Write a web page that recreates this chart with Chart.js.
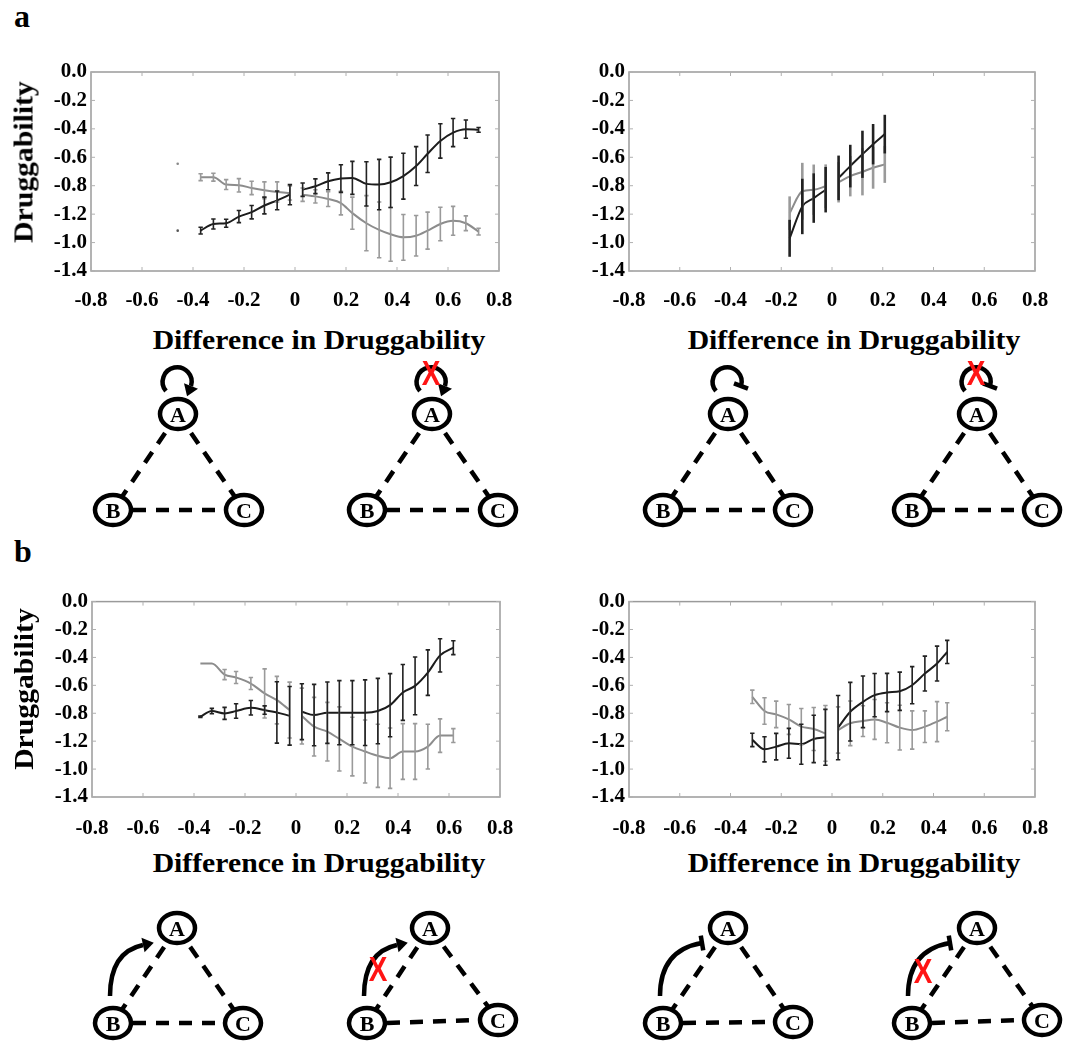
<!DOCTYPE html>
<html>
<head>
<meta charset="utf-8">
<script src="https://cdn.jsdelivr.net/npm/chart.js@4.4.1/dist/chart.umd.min.js"></script>
<style>
  body { margin: 0; background: #fff; }
  #page { position: relative; width: 1084px; height: 1042px; overflow: hidden; background: #fff; }
  canvas { position: absolute; }
  .lbl { position: absolute; font-family: "Liberation Serif", serif; font-weight: bold; color: #000; white-space: nowrap; }
  .xt { font-size: 27px; transform: translate(-50%, -50%) scaleX(1.1); }
  .yt { font-size: 27px; transform: translate(-50%, -50%) rotate(-90deg) scaleX(1.1); }
  .pl { font-size: 32px; }
  svg { position: absolute; left: 0; top: 0; }
</style>
</head>
<body>
<div id="page">
  <canvas id="aLeft" width="540" height="265" style="left:0;top:55px"></canvas>
  <canvas id="aRight" width="544" height="265" style="left:540px;top:55px"></canvas>
  <canvas id="bLeft" width="540" height="260" style="left:0;top:585px"></canvas>
  <canvas id="bRight" width="544" height="260" style="left:540px;top:585px"></canvas>

  <div class="lbl pl" style="left:14px;top:-2px">a</div>
  <div class="lbl pl" style="left:14px;top:533px">b</div>
  <div class="lbl xt" style="left:319px;top:340px">Difference in Druggability</div>
  <div class="lbl xt" style="left:854px;top:340px">Difference in Druggability</div>
  <div class="lbl xt" style="left:319px;top:863px">Difference in Druggability</div>
  <div class="lbl xt" style="left:854px;top:863px">Difference in Druggability</div>
  <div class="lbl yt" style="left:24px;top:162px">Druggability</div>
  <div class="lbl yt" style="left:24px;top:689px">Druggability</div>

  <svg id="nets" width="1084" height="1042"></svg>
</div>

<script>
// axis labels as printed in the figure
var xTickLabels = ["-0.8", "-0.6", "-0.4", "-0.2", "0", "0.2", "0.4", "0.6", "0.8"];
var yTickLabels = ["0.0", "-0.2", "-0.4", "-0.6", "-0.8", "-1.2", "-1.0", "-1.4"];

// panel a, left
var aLeftX = [-0.37, -0.32, -0.27, -0.22, -0.17, -0.12, -0.07, -0.02, 0, 0.03, 0.08, 0.13, 0.18, 0.225, 0.28, 0.33, 0.375, 0.425, 0.475, 0.52, 0.57, 0.62, 0.67, 0.72];
var aLeftBlack = [-1.116, -1.069, -1.064, -1.017, -0.986, -0.939, -0.903, -0.863, null, -0.828, -0.804, -0.769, -0.750, -0.745, -0.787, -0.792, -0.776, -0.733, -0.662, -0.575, -0.485, -0.426, -0.402, -0.407];
var aLeftBlackErr = [0.024, 0.035, 0.028, 0.043, 0.047, 0.059, 0.066, 0.071, null, 0.047, 0.052, 0.059, 0.097, 0.116, 0.156, 0.177, 0.177, 0.161, 0.137, 0.132, 0.121, 0.099, 0.064, 0.017];
var aLeftGray = [-0.740, -0.740, -0.792, -0.797, -0.816, -0.832, -0.844, -0.851, null, -0.863, -0.875, -0.894, -0.922, -0.993, -1.064, -1.111, -1.142, -1.163, -1.152, -1.116, -1.069, -1.047, -1.064, -1.123];
var aLeftGrayErr = [0.024, 0.028, 0.035, 0.047, 0.047, 0.059, 0.071, 0.05, null, 0.047, 0.047, 0.052, 0.083, 0.113, 0.194, 0.196, 0.189, 0.161, 0.142, 0.13, 0.118, 0.102, 0.052, 0.024];
var aLeftDotX = [-0.46];
var aLeftDotBlack = [-1.116];
var aLeftDotGray = [-0.646];

// panel a, right
var aRightX = [-0.167, -0.117, -0.072, -0.025, 0, 0.026, 0.072, 0.12, 0.162, 0.208];
var aRightBlack = [-1.170, -0.946, -0.887, -0.828, null, -0.745, -0.662, -0.579, -0.508, -0.437];
var aRightBlackErr = [0.130, 0.195, 0.174, 0.160, null, 0.157, 0.150, 0.166, 0.142, 0.136];
var aRightGray = [-0.993, -0.839, -0.828, -0.804, null, -0.776, -0.733, -0.702, -0.674, -0.650];
var aRightGrayErr = [0.118, 0.200, 0.177, 0.154, null, 0.142, 0.142, 0.166, 0.147, 0.130];

// panel b, left
var bLeftX = [-0.375, -0.33, -0.28, -0.235, -0.177, -0.123, -0.075, -0.025, 0, 0.023, 0.071, 0.123, 0.17, 0.221, 0.271, 0.321, 0.369, 0.419, 0.467, 0.517, 0.565, 0.617];
var bLeftBlack = [-0.825, -0.784, -0.801, -0.784, -0.761, -0.777, -0.794, -0.818, null, -0.789, -0.813, -0.796, -0.796, -0.796, -0.796, -0.784, -0.742, -0.651, -0.604, -0.509, -0.385, -0.330];
var bLeftBlackErr = [0.005, 0.019, 0.043, 0.052, 0.052, 0.03, 0.22, 0.21, null, 0.2, 0.22, 0.22, 0.23, 0.23, 0.235, 0.234, 0.226, 0.2, 0.207, 0.163, 0.119, 0.05];
var bLeftGray = [-0.444, -0.444, -0.523, -0.544, -0.587, -0.658, -0.706, -0.777, null, -0.820, -0.896, -0.932, -0.984, -1.039, -1.074, -1.105, -1.122, -1.074, -1.074, -1.039, -0.960, -0.960];
var bLeftGrayErr = [0, 0, 0.036, 0.043, 0.043, 0.176, 0.17, 0.2, null, 0.2, 0.21, 0.21, 0.23, 0.21, 0.226, 0.226, 0.216, 0.2, 0.2, 0.16, 0.12, 0.05];

// panel b, right
var bRightX = [-0.314, -0.266, -0.22, -0.17, -0.121, -0.072, -0.026, 0, 0.024, 0.072, 0.122, 0.168, 0.217, 0.267, 0.316, 0.366, 0.414, 0.454];
var bRightBlack = [-0.991, -1.058, -1.039, -1.015, -1.022, -0.984, -0.972, null, -0.903, -0.789, -0.718, -0.670, -0.651, -0.642, -0.599, -0.516, -0.444, -0.361];
var bRightBlackErr = [0.048, 0.09, 0.095, 0.107, 0.143, 0.17, 0.2, null, 0.23, 0.21, 0.185, 0.155, 0.137, 0.137, 0.133, 0.125, 0.125, 0.083];
var bRightGray = [-0.682, -0.784, -0.808, -0.844, -0.896, -0.913, -0.944, null, -0.920, -0.872, -0.856, -0.844, -0.868, -0.903, -0.920, -0.896, -0.860, -0.825];
var bRightGrayErr = [0.048, 0.095, 0.095, 0.107, 0.13, 0.154, 0.2, null, 0.166, 0.16, 0.11, 0.143, 0.143, 0.16, 0.137, 0.113, 0.143, 0.1];

var BLACK = "#1c1c1c";
var GRAY = "#8c8c8c";
var tickFont = { family: "Liberation Serif", weight: "bold", size: 21 };
var charts = [];

function pts(xs, ys) {
  return xs.map(function (x, i) { return { x: x, y: ys[i] }; });
}

// vertical error bars, drawn with the chart's own scales
var errorBars = {
  id: "errorBars",
  afterDatasetsDraw: function (chart) {
    var ctx = chart.ctx, xs = chart.scales.x, ys = chart.scales.y;
    chart.data.datasets.forEach(function (ds) {
      if (!ds.errors) return;
      ctx.save();
      ctx.strokeStyle = ds.errorColor;
      ctx.lineWidth = ds.errorWidth;
      ds.data.forEach(function (p, i) {
        var e = ds.errors[i];
        if (p.y == null || !e) return;
        var px = xs.getPixelForValue(p.x);
        var top = ys.getPixelForValue(p.y + e);
        var bot = ys.getPixelForValue(p.y - e);
        ctx.beginPath();
        ctx.moveTo(px, top); ctx.lineTo(px, bot);
        if (ds.cap) {
          ctx.moveTo(px - ds.cap, top); ctx.lineTo(px + ds.cap, top);
          ctx.moveTo(px - ds.cap, bot); ctx.lineTo(px + ds.cap, bot);
        }
        ctx.stroke();
      });
      ctx.restore();
    });
  }
};

// grey box with small inward ticks on all four sides
var frame = {
  id: "frame",
  beforeDatasetsDraw: function (chart) {
    var ctx = chart.ctx, a = chart.chartArea, xs = chart.scales.x, ys = chart.scales.y;
    ctx.save();
    ctx.strokeStyle = "#9a9a9a";
    ctx.lineWidth = 1.5;
    ctx.strokeRect(a.left, a.top, a.right - a.left, a.bottom - a.top);
    ctx.lineWidth = 1;
    ctx.strokeStyle = "#b0b0b0";
    ctx.beginPath();
    xs.ticks.forEach(function (t) {
      var px = xs.getPixelForValue(t.value);
      ctx.moveTo(px, a.bottom); ctx.lineTo(px, a.bottom - 4);
      ctx.moveTo(px, a.top); ctx.lineTo(px, a.top + 4);
    });
    ys.ticks.forEach(function (t) {
      var py = ys.getPixelForValue(t.value);
      ctx.moveTo(a.left, py); ctx.lineTo(a.left + 4, py);
      ctx.moveTo(a.right, py); ctx.lineTo(a.right - 4, py);
    });
    ctx.stroke();
    ctx.restore();
  }
};

function lineSet(xs, ys, errs, color, errColor, opt) {
  return {
    data: pts(xs, ys),
    errors: errs,
    borderColor: color,
    borderWidth: opt.lw,
    tension: opt.tension,
    cubicInterpolationMode: "monotone",
    pointRadius: 0,
    spanGaps: false,
    errorColor: errColor,
    errorWidth: opt.ew,
    cap: opt.cap
  };
}

function makePanel(id, datasets, lay) {
  charts.push(new Chart(document.getElementById(id).getContext("2d"), {
    type: "line",
    data: { datasets: datasets },
    options: {
      responsive: false,
      animation: false,
      devicePixelRatio: 1,
      layout: { padding: { left: 0, top: lay.top, right: lay.right, bottom: 0 } },
      plugins: { legend: { display: false }, tooltip: { enabled: false } },
      scales: {
        x: {
          type: "linear", min: -0.8, max: 0.8,
          grid: { display: false, drawTicks: false },
          border: { display: false },
          afterFit: function (s) { s.height = lay.xh; },
          ticks: {
            stepSize: 0.2, autoSkip: false, maxRotation: 0, padding: lay.xpad,
            color: "#000", font: tickFont,
            callback: function (v) { return xTickLabels[Math.round((v + 0.8) / 0.2)]; }
          }
        },
        y: {
          type: "linear", min: -1.4, max: 0,
          grid: { display: false, drawTicks: false },
          border: { display: false },
          afterFit: function (s) { s.width = lay.yw; },
          ticks: {
            stepSize: 0.2, autoSkip: false, padding: 4,
            color: "#000", font: tickFont,
            callback: function (v) { return yTickLabels[Math.round(-v / 0.2)]; }
          }
        }
      }
    },
    plugins: [frame, errorBars]
  }));
}

var smooth = { lw: 2, tension: 0.35, ew: 1.6, cap: 2.2 };
var straight = { lw: 2, tension: 0, ew: 2.6, cap: 0 };

makePanel("aLeft", [
  lineSet(aLeftX, aLeftGray, aLeftGrayErr, GRAY, "#9a9a9a", smooth),
  lineSet(aLeftX, aLeftBlack, aLeftBlackErr, BLACK, "#222", smooth),
  { data: pts(aLeftDotX, aLeftDotGray), showLine: false, pointRadius: 1.3, pointBorderWidth: 0, pointBackgroundColor: "#888" },
  { data: pts(aLeftDotX, aLeftDotBlack), showLine: false, pointRadius: 1.3, pointBorderWidth: 0, pointBackgroundColor: "#555" }
], { top: 17, right: 41, xh: 49, yw: 91, xpad: 17 });

makePanel("aRight", [
  lineSet(aRightX, aRightGray, aRightGrayErr, GRAY, "#9a9a9a", straight),
  lineSet(aRightX, aRightBlack, aRightBlackErr, BLACK, "#222", straight)
], { top: 17, right: 49, xh: 49, yw: 89, xpad: 17 });

makePanel("bLeft", [
  lineSet(bLeftX, bLeftGray, bLeftGrayErr, GRAY, "#9a9a9a", smooth),
  lineSet(bLeftX, bLeftBlack, bLeftBlackErr, BLACK, "#222", smooth)
], { top: 16, right: 40, xh: 48, yw: 92, xpad: 19 });

makePanel("bRight", [
  lineSet(bRightX, bRightGray, bRightGrayErr, GRAY, "#9a9a9a", smooth),
  lineSet(bRightX, bRightBlack, bRightBlackErr, BLACK, "#222", smooth)
], { top: 16, right: 49, xh: 48, yw: 89, xpad: 19 });

// redraw once the fonts are surely available to the canvases
if (document.fonts && document.fonts.ready) {
  document.fonts.ready.then(function () {
    charts.forEach(function (c) { c.update("none"); });
  });
}

// ---- network motif sketches ----
function node(x, y, t) {
  return '<ellipse cx="' + x + '" cy="' + y + '" rx="18" ry="15" fill="#fff" stroke="#000" stroke-width="4.5"/>' +
    '<text x="' + x + '" y="' + (y + 7.5) + '" text-anchor="middle" font-family="Liberation Serif" font-weight="bold" font-size="22">' + t + '</text>';
}
function dash(x1, y1, x2, y2) {
  return '<line x1="' + x1 + '" y1="' + y1 + '" x2="' + x2 + '" y2="' + y2 + '" stroke="#000" stroke-width="4.5" stroke-dasharray="13 10"/>';
}
function tri(ax, ay, bx, by, cx, cy) {
  return dash(ax, ay, bx, by) + dash(ax, ay, cx, cy) + dash(bx + 20, by, cx - 20, cy) +
    node(ax, ay, "A") + node(bx, by, "B") + node(cx, cy, "C");
}
// end marker: arrow head or flat bar, along direction (dx, dy)
function endMark(x, y, dx, dy, kind) {
  var l = Math.sqrt(dx * dx + dy * dy); dx /= l; dy /= l;
  var px = -dy, py = dx;
  if (kind === "arrow") {
    return '<polygon fill="#000" points="' + (x + px * 7.5) + ',' + (y + py * 7.5) + ' ' + (x - px * 7.5) + ',' + (y - py * 7.5) + ' ' + (x + dx * 11) + ',' + (y + dy * 11) + '"/>';
  }
  return '<line stroke="#000" stroke-width="4.5" x1="' + (x + px * 7.5) + '" y1="' + (y + py * 7.5) + '" x2="' + (x - px * 7.5) + '" y2="' + (y - py * 7.5) + '"/>';
}
function selfLoop(cx, cy, kind) {
  var sx = cx - 12, sy = cy + 10, ex = cx + 13, ey = cy + 5;
  return '<path d="M' + sx + ' ' + sy + ' A14.5 14.5 0 1 1 ' + ex + ' ' + ey + '" fill="none" stroke="#000" stroke-width="4.5"/>' +
    endMark(ex, ey, -(ey - cy), ex - cx, kind);
}
function curve(sx, sy, qx, qy, ex, ey, kind) {
  return '<path d="M' + sx + ' ' + sy + ' Q' + qx + ' ' + qy + ' ' + ex + ' ' + ey + '" fill="none" stroke="#000" stroke-width="4.5"/>' +
    endMark(ex, ey, ex - qx, ey - qy, kind);
}
function redX(x, y) {
  return '<text transform="translate(' + x + ',' + y + ') scale(0.9,1.15)" x="0" y="11" text-anchor="middle" font-family="Liberation Sans" font-weight="bold" font-size="31" fill="#ff1414">X</text>';
}

var svg = "";
// panel a motifs
svg += tri(178, 414, 113, 510, 244, 510) + selfLoop(178, 381, "arrow");
svg += tri(432, 414, 367, 510, 498, 510) + selfLoop(432, 381, "arrow") + redX(431, 372);
svg += tri(728, 414, 663, 510, 793, 510) + selfLoop(728, 381, "bar");
svg += tri(977, 414, 912, 510, 1042, 510) + selfLoop(977, 381, "bar") + redX(976, 372);
// panel b motifs
svg += tri(177, 928, 113, 1023, 243, 1023) + curve(110, 996, 110, 952, 143, 945, "arrow");
svg += tri(430, 928, 367, 1023, 498, 1020) + curve(364, 996, 364, 952, 397, 945, "arrow") + redX(378, 968);
svg += tri(728, 928, 663, 1023, 793, 1022) + curve(660, 996, 660, 950, 702, 943, "bar");
svg += tri(977, 928, 912, 1023, 1042, 1020) + curve(908, 996, 908, 950, 950, 943, "bar") + redX(923, 970);
document.getElementById("nets").innerHTML = svg;
</script>
</body>
</html>
